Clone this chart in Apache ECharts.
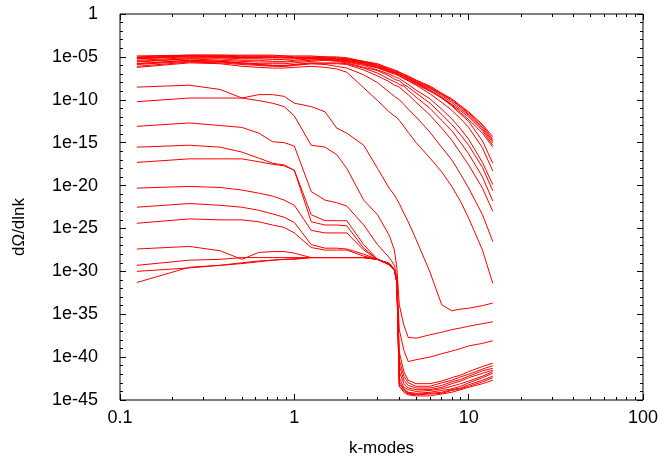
<!DOCTYPE html>
<html style="height: 100%">
<head>
    <meta charset="utf-8">
    <title>dOmega/dlnk</title>
    <script src="https://cdn.jsdelivr.net/npm/echarts@6/dist/echarts.min.js"></script>
</head>
<body style="height: 100%; margin: 0; background: #fff">
<div id="main" style="width: 664px; height: 464px"></div>
<script type="text/javascript">

    // k values of the snapshots
    var kModes = [0.125, 0.25, 0.375, 0.5, 0.625, 0.75, 0.875, 1, 1.25, 1.5, 1.75, 2, 2.5, 3, 3.5, 3.75, 3.875, 4, 4.25, 4.5, 5, 6, 7, 8, 9, 10, 12, 13.75];

    // dOmega/dlnk, one array per snapshot (upper ones first)
    var s01 = [1e-5,1.6e-5,1.6e-5,1.6e-5,1.6e-5,1.6e-5,1.3e-5,1.3e-5,1.3e-5,1e-5,1e-5,8e-6,3e-6,1.6e-6,5e-7,3e-7,2.5e-7,1.6e-7,1e-7,6e-8,2e-8,4e-9,6e-10,1.3e-10,2e-11,4e-12,1.3e-13,5e-15];
    var s02 = [1.3e-5,1.6e-5,1.6e-5,1.3e-5,1.3e-5,1.3e-5,1.3e-5,1e-5,1e-5,1e-5,8e-6,6e-6,3e-6,1.3e-6,4e-7,2.5e-7,2e-7,1.6e-7,8e-8,5e-8,1.6e-8,3e-9,5e-10,1e-10,1.6e-11,3e-12,1e-13,2.5e-15];
    var s03 = [8e-6,1.3e-5,1.3e-5,1e-5,1e-5,1e-5,1e-5,8e-6,8e-6,8e-6,6e-6,5e-6,2.5e-6,1e-6,3e-7,2e-7,1.6e-7,1.3e-7,6e-8,4e-8,1.3e-8,2.5e-9,4e-10,8e-11,1.3e-11,2e-12,6e-14,1.6e-15];
    var s04 = [8e-6,1.3e-5,1e-5,1e-5,1e-5,1e-5,8e-6,8e-6,8e-6,6e-6,5e-6,4e-6,2e-6,8e-7,2.5e-7,1.6e-7,1.3e-7,1e-7,5e-8,3e-8,1e-8,2e-9,3e-10,5e-11,8e-12,1.6e-12,4e-14,1e-15];
    var s05 = [6e-6,1e-5,1e-5,8e-6,8e-6,8e-6,8e-6,8e-6,6e-6,6e-6,5e-6,4e-6,1.6e-6,6e-7,2e-7,1.3e-7,1e-7,8e-8,4e-8,2.5e-8,8e-9,1.3e-9,2e-10,3e-11,5e-12,1e-12,2.5e-14,5e-16];
    var s06 = [4e-6,8e-6,8e-6,6e-6,6e-6,5e-6,5e-6,6e-6,6e-6,5e-6,4e-6,3e-6,1.3e-6,5e-7,1.6e-7,1e-7,8e-8,6e-8,3e-8,2e-8,6e-9,1e-9,1.6e-10,2.5e-11,3e-12,5e-13,1.3e-14,3e-16];
    var s07 = [6e-6,1.3e-5,1e-5,8e-6,8e-6,8e-6,8e-6,8e-6,8e-6,8e-6,6e-6,6e-6,2.5e-6,1e-6,3e-7,1.6e-7,1.3e-7,1e-7,6e-8,3e-8,1e-8,1.3e-9,1.6e-10,2e-11,2e-12,3e-13,1.6e-15,4e-18];
    var s08 = [3e-6,6e-6,6e-6,4e-6,4e-6,3e-6,3e-6,4e-6,6e-6,6e-6,5e-6,4e-6,1.6e-6,6e-7,2e-7,1.3e-7,1e-7,6e-8,3e-8,1.6e-8,5e-9,5e-10,5e-11,6e-12,6e-13,6e-14,2.5e-16,5e-19];
    var s09 = [2.5e-6,6e-6,4e-6,3e-6,2.5e-6,2.5e-6,2.5e-6,3e-6,4e-6,5e-6,4e-6,2.5e-6,1e-6,3e-7,1e-7,5e-8,4e-8,3e-8,1.3e-8,6e-9,1.3e-9,1.3e-10,8e-12,6e-13,4e-14,2.5e-15,5e-18,1.3e-20];
    var s10 = [1.6e-6,4e-6,3e-6,2e-6,1.6e-6,1.6e-6,1.6e-6,2e-6,3e-6,4e-6,3e-6,2e-6,6e-7,2.5e-7,6e-8,2.5e-8,2e-8,1.6e-8,6e-9,3e-9,6e-10,4e-11,2e-12,1.3e-13,8e-15,5e-16,1.3e-18,2.5e-21];
    var s11 = [1.3e-6,3e-6,2.5e-6,1.6e-6,1.3e-6,1e-6,1e-6,1.3e-6,2e-6,2e-6,2e-6,1.6e-6,5e-7,1.3e-7,2.5e-8,1.3e-8,1e-8,6e-9,4e-9,1.3e-9,2e-10,1e-11,4e-13,2.5e-14,1e-15,5e-17,1e-19,1.6e-22];
    var s12 = [8e-7,2.5e-6,2e-6,1.3e-6,1e-6,8e-7,8e-7,1e-6,1.6e-6,1.6e-6,1.6e-6,1.3e-6,3e-7,6e-8,1.3e-8,5e-9,4e-9,3e-9,1e-9,4e-10,5e-11,1.6e-12,5e-14,2e-15,6e-17,2.5e-18,5e-21,1e-23];
    var s13 = [1.6e-6,4e-6,3e-6,2e-6,1.3e-6,1e-6,8e-7,1.3e-6,1.6e-6,1.3e-6,8e-7,5e-7,8e-8,1e-8,8e-10,2.5e-10,1.6e-10,1e-10,3e-11,8e-12,1e-12,1.6e-14,3e-16,1e-17,2e-19,5e-21,4e-24,3e-27];
    var s14 = [6e-7,2e-6,1.6e-6,8e-7,6e-7,5e-7,5e-7,6e-7,8e-7,6e-7,4e-7,1.6e-7,2.5e-9,8e-11,4e-12,1.3e-12,8e-13,4e-13,8e-14,1.6e-14,1e-15,1.6e-17,4e-19,8e-21,1.3e-22,1.6e-24,3e-28,4e-32];
    var s15 = [3e-9,5e-9,1.6e-9,1.6e-10,4e-10,4e-10,2.5e-10,4e-11,1.6e-11,4e-12,5e-14,1.3e-14,5e-16,1e-18,5e-21,8e-22,2.5e-22,8e-23,6e-24,6e-25,5e-27,8e-31,1.3e-34,2.5e-35,4e-35,5e-35,1e-34,2e-34];
    var s16 = [6e-11,1.6e-10,1.6e-10,1.6e-10,8e-11,4e-11,1.6e-11,1.3e-12,5e-16,3e-16,4e-17,1e-18,2e-22,4e-24,1.6e-26,3e-28,2.5e-30,1.3e-34,5e-37,2e-38,1.6e-38,4e-38,8e-38,1.6e-37,2.5e-37,4e-37,8e-37,1.3e-36];
    var s17 = [8e-14,2e-13,1e-13,6e-14,1.3e-14,1.3e-15,1e-15,4e-16,2e-21,2e-22,1e-22,4e-23,2.5e-25,1.3e-27,4e-29,5e-30,1.6e-31,1.6e-37,6e-40,3e-41,5e-41,1e-40,2.5e-40,5e-40,1e-39,2e-39,4e-39,8e-39];
    var s18 = [3e-16,5e-16,3e-16,8e-17,1.6e-17,4e-18,2.5e-18,6e-19,4e-24,8e-25,8e-25,8e-25,1.3e-27,2.5e-29,8e-30,1.6e-30,6e-32,4e-40,2e-42,2e-43,8e-44,8e-44,1.6e-43,4e-43,8e-43,2e-42,8e-42,2e-41];
    var s19 = [5e-18,1.3e-17,1.3e-17,1.3e-17,6e-18,3e-18,2e-18,6e-19,6e-25,2.5e-25,2.5e-25,2e-25,5e-28,2.5e-29,8e-30,1.6e-30,6e-32,5e-41,6e-43,1e-43,4e-44,4e-44,1e-43,2e-43,5e-43,1e-42,4e-42,1e-41];
    var s20 = [5e-21,8e-21,6e-21,3e-21,1.3e-21,6e-22,2e-22,5e-23,6e-26,3e-26,3e-26,3e-26,3e-28,2.5e-29,8e-30,1.6e-30,6e-32,1e-41,2e-43,5e-44,2.5e-44,2.5e-44,5e-44,1.3e-43,2.5e-43,6e-43,2.5e-42,5e-42];
    var s21 = [3e-23,8e-23,5e-23,3e-23,1.3e-23,5e-24,2e-24,5e-25,1.3e-27,5e-28,5e-28,4e-28,1e-28,2.5e-29,8e-30,1.6e-30,6e-32,2e-42,8e-44,2.5e-44,1.6e-44,1.6e-44,3e-44,8e-44,1.6e-43,4e-43,1.3e-42,3e-42];
    var s22 = [4e-25,1.3e-24,1e-24,1e-24,6e-25,2.5e-25,1.3e-25,3e-26,6e-28,3e-28,3e-28,3e-28,6e-29,2.5e-29,8e-30,1.6e-30,6e-32,4e-43,3e-44,1.6e-44,1e-44,1.3e-44,2e-44,4e-44,8e-44,1.6e-43,6e-43,2e-42];
    var s23 = [4e-28,8e-28,2.5e-28,2.5e-29,1.6e-28,2e-28,2e-28,1.3e-28,4e-29,4e-29,4e-29,4e-29,4e-29,2.5e-29,6e-30,1.3e-30,5e-32,1.3e-43,2e-44,8e-45,6e-45,8e-45,1.3e-44,2e-44,4e-44,1e-43,4e-43,1.3e-42];
    var s24 = [5e-30,2e-29,2.5e-29,4e-29,4e-29,4e-29,4e-29,4e-29,4e-29,4e-29,4e-29,4e-29,4e-29,2.5e-29,6e-30,1.3e-30,5e-32,8e-44,1.6e-44,6e-45,5e-45,6e-45,8e-45,1.6e-44,2.5e-44,6e-44,2e-43,6e-43];
    var s25 = [1e-30,2.5e-30,5e-30,1e-29,1.6e-29,2e-29,2.5e-29,3e-29,4e-29,4e-29,4e-29,4e-29,4e-29,2.5e-29,6e-30,1.3e-30,5e-32,4e-44,1.3e-44,5e-45,4e-45,5e-45,6e-45,1.3e-44,2e-44,4e-44,1.3e-43,4e-43];
    var s26 = [5e-32,3e-30,5e-30,8e-30,1.3e-29,2e-29,2.5e-29,2.5e-29,4e-29,4e-29,4e-29,4e-29,4e-29,2.5e-29,6e-30,1.3e-30,5e-32,4e-44,8e-45,4e-45,3e-45,3e-45,5e-45,8e-45,1.6e-44,3e-44,8e-44,2e-43];

    var snapshots = [s01, s02, s03, s04, s05, s06, s07, s08, s09, s10, s11, s12, s13,
                     s14, s15, s16, s17, s18, s19, s20, s21, s22, s23, s24, s25, s26];

    // tick labels (decades)
    var xTickLabels = ['0.1', '1', '10', '100'];
    var yTickLabels = ['1e-45', '1e-40', '1e-35', '1e-30', '1e-25', '1e-20', '1e-15', '1e-10', '1e-05', '1'];

    // minor ticks of the k axis at 2..9 of each decade, in log10 units
    var minorX = [];
    [0.1, 1, 10].forEach(function (d) {
        for (var m = 2; m <= 9; m++) minorX.push(Math.log10(m * d));
    });

    var font = 'Liberation Sans, Arial, sans-serif';
    var myChart = echarts.init(document.getElementById('main'));

    var series = snapshots.map(function (vals, i) {
        return {
            name: 't' + (i + 1),
            type: 'line',
            xAxisIndex: 0,
            yAxisIndex: 0,
            showSymbol: false,
            symbol: 'none',
            z: 1,
            lineStyle: {color: '#ff0000', width: 1},
            data: kModes.map(function (k, j) { return [k, vals[j]]; })
        };
    });

    // the log axes carry the data, the value axes below (in decades) only draw the
    // gnuplot-style frame ticks and labels
    var tickStyle = {color: '#000', width: 1};

    function tickAxis(pos, extra) {
        var o = {
            type: 'value', position: pos, min: -1, max: 2, interval: 1, z: 5,
            axisLine: {show: false, onZero: false},
            axisTick: {show: true, inside: true, length: 6, lineStyle: tickStyle},
            axisLabel: {show: false},
            splitLine: {show: false}
        };
        return Object.assign(o, extra || {});
    }

    function yTickAxis(pos, extra) {
        var o = {
            type: 'value', position: pos, min: -45, max: 0, interval: 5, z: 5,
            axisLine: {show: false, onZero: false},
            axisTick: {show: true, inside: true, length: 6, lineStyle: tickStyle},
            minorTick: {show: true, splitNumber: 5, length: 3, lineStyle: tickStyle},
            splitLine: {show: false},
            minorSplitLine: {show: false},
            axisLabel: {show: false}
        };
        return Object.assign(o, extra || {});
    }

    var minorTicks = {show: true, inside: true, length: 3, customValues: minorX, lineStyle: tickStyle};

    option = {
        animation: false,
        backgroundColor: '#fff',
        grid: {left: 120, right: 21, top: 14, bottom: 64, show: true, borderColor: '#000', borderWidth: 1},
        xAxis: [
            {type: 'log', logBase: 10, min: 0.1, max: 100, show: false, splitLine: {show: false}},
            tickAxis('bottom', {
                axisLabel: {
                    show: true, margin: 9, color: '#000', fontSize: 18, fontFamily: font,
                    formatter: function (v) { return xTickLabels[v + 1]; }
                },
                name: 'k-modes', nameLocation: 'middle', nameGap: 40,
                nameTextStyle: {color: '#000', fontSize: 17, fontFamily: font}
            }),
            tickAxis('bottom', {axisTick: minorTicks}),
            tickAxis('top'),
            tickAxis('top', {axisTick: minorTicks})
        ],
        yAxis: [
            {type: 'log', logBase: 10, min: 1e-45, max: 1, show: false, splitLine: {show: false}},
            yTickAxis('left', {
                axisLabel: {
                    show: true, margin: 22, color: '#000', fontSize: 18, fontFamily: font,
                    formatter: function (v) { return yTickLabels[(v + 45) / 5]; }
                },
                name: 'd\u03A9/dlnk', nameLocation: 'middle', nameRotate: 90, nameGap: 92,
                nameTextStyle: {color: '#000', fontSize: 17, fontFamily: font, padding: [0, 40, 0, 0]}
            }),
            yTickAxis('right')
        ],
        series: series
    };

    myChart.setOption(option);
</script>
</body>
</html>
